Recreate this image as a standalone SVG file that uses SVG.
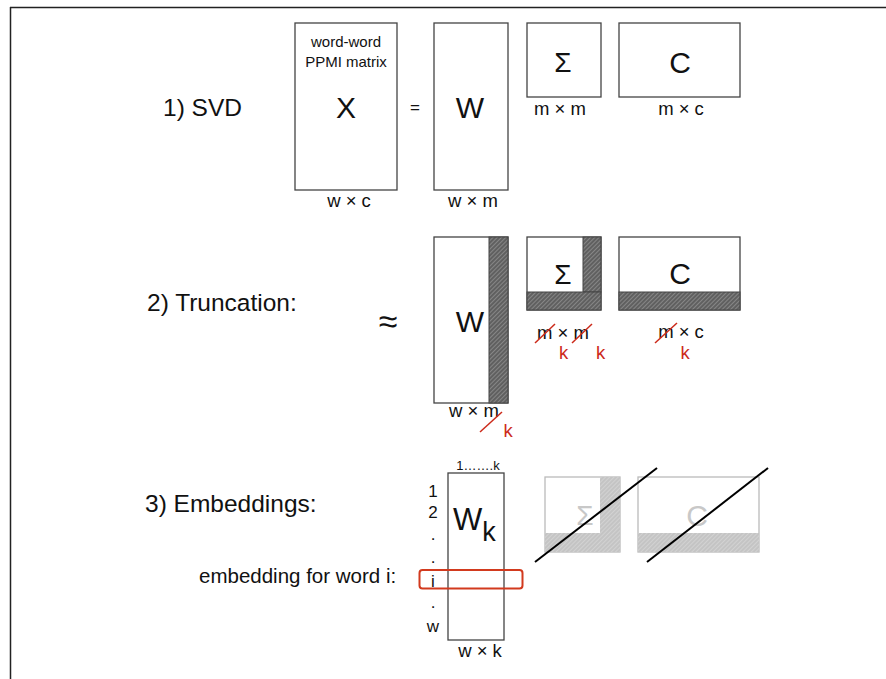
<svg xmlns="http://www.w3.org/2000/svg" width="886" height="679" viewBox="0 0 886 679">
<defs>
<pattern id="hatch" patternUnits="userSpaceOnUse" width="3" height="3" patternTransform="rotate(45)">
<rect width="3" height="3" fill="#606060"/>
<line x1="0" y1="0" x2="0" y2="3" stroke="#b4b4b4" stroke-width="0.9"/>
</pattern>
<pattern id="hatchl" patternUnits="userSpaceOnUse" width="3" height="3" patternTransform="rotate(45)">
<rect width="3" height="3" fill="#c4c4c4"/>
<line x1="0" y1="0" x2="0" y2="3" stroke="#e6e6e6" stroke-width="0.8"/>
</pattern>
</defs>
<style>
text{font-family:"Liberation Sans",Arial,sans-serif;fill:#111}
.box{fill:#fff;stroke:#444;stroke-width:1.3}
.gbox{fill:#fff;stroke:#bbb;stroke-width:1.3}
.lbl{font-size:18.5px;text-anchor:middle}
.big{font-size:30px;text-anchor:middle}
.mid{font-size:28px;text-anchor:middle}
.step{font-size:24.5px}
.red{fill:#cc2a1a}
.slash{stroke:#cc2a1a;stroke-width:1.5}
.row{font-size:17px;text-anchor:middle}
</style>
<rect width="886" height="679" fill="#fff"/>
<g id="frame" fill="none" stroke="#222" stroke-width="1.5">
<line x1="10" y1="7.5" x2="886" y2="7.5"/>
<line x1="10.5" y1="7" x2="10.5" y2="679"/>
</g>

<g id="step1">
<text class="step" x="163" y="116">1) SVD</text>
</g>
<g id="X">
<rect class="box" x="295" y="23" width="102" height="167"/>
<text x="346" y="47" font-size="15" text-anchor="middle">word-word</text>
<text x="346" y="67" font-size="15" text-anchor="middle">PPMI matrix</text>
<text class="big" x="346" y="118">X</text>
<text class="lbl" x="349" y="207">w × c</text>
</g>
<text id="eq" x="415" y="113" font-size="17" text-anchor="middle">=</text>
<g id="W1">
<rect class="box" x="434" y="23" width="74" height="167"/>
<text class="big" x="470" y="118">W</text>
<text class="lbl" x="473" y="207">w × m</text>
</g>
<g id="S1">
<rect class="box" x="527" y="23" width="74" height="74"/>
<text class="mid" x="563" y="72">Σ</text>
<text class="lbl" x="560" y="115">m × m</text>
</g>
<g id="C1">
<rect class="box" x="619" y="23" width="121" height="74"/>
<text class="big" x="680" y="73">C</text>
<text class="lbl" x="681" y="115">m × c</text>
</g>

<g id="step2">
<text class="step" x="147" y="311">2) Truncation:</text>
<text x="388" y="333" font-size="34" text-anchor="middle">≈</text>
</g>
<g id="W2">
<rect class="box" x="434" y="237" width="74" height="166"/>
<rect x="489" y="237" width="19" height="166" fill="url(#hatch)" stroke="#444" stroke-width="1"/>
<text class="big" x="470" y="332">W</text>
<text class="lbl" x="474" y="417">w × m</text>
<line class="slash" x1="480" y1="432" x2="502" y2="412"/>
<text class="lbl red" x="508" y="437">k</text>
</g>
<g id="S2">
<rect class="box" x="527" y="237" width="74" height="73"/>
<rect x="583" y="237" width="18" height="55" fill="url(#hatch)" stroke="#444" stroke-width="1"/>
<rect x="527" y="292" width="74" height="18" fill="url(#hatch)" stroke="#444" stroke-width="1"/>
<text class="mid" x="563" y="284">Σ</text>
<text class="lbl" x="563" y="339">m × m</text>
<line class="slash" x1="535" y1="343" x2="555" y2="324"/>
<line class="slash" x1="572" y1="343" x2="592" y2="324"/>
<text class="lbl red" x="563.5" y="359">k</text>
<text class="lbl red" x="600.5" y="359">k</text>
</g>
<g id="C2">
<rect class="box" x="619" y="237" width="121" height="73"/>
<rect x="619" y="292" width="121" height="18" fill="url(#hatch)" stroke="#444" stroke-width="1"/>
<text class="big" x="680" y="284">C</text>
<text class="lbl" x="681" y="338">m × c</text>
<line class="slash" x1="655" y1="343" x2="677" y2="323"/>
<text class="lbl red" x="685" y="359">k</text>
</g>

<g id="step3">
<text class="step" x="145" y="512">3) Embeddings:</text>
<text x="199" y="583" font-size="20.5">embedding for word i:</text>
</g>
<g id="Wk">
<text x="478" y="470" font-size="13" text-anchor="middle">1…….k</text>
<rect class="box" x="448" y="473" width="56" height="167"/>
<text x="453" y="530" font-size="31">W<tspan font-size="27" dy="11">k</tspan></text>
<text class="row" x="433" y="497">1</text>
<text class="row" x="433" y="518">2</text>
<text class="row" x="433" y="540">.</text>
<text class="row" x="433" y="563">.</text>
<text class="row" x="433" y="587">i</text>
<text class="row" x="433" y="608">.</text>
<text class="row" x="433" y="632">w</text>
<rect x="419.5" y="570" width="103" height="18.5" rx="3" fill="none" stroke="#d23a1e" stroke-width="2"/>
<text class="lbl" x="480" y="657">w × k</text>
</g>
<g id="S3">
<rect class="gbox" x="545" y="477" width="75" height="75"/>
<rect x="600" y="477" width="20" height="56" fill="url(#hatchl)"/>
<rect x="545" y="533" width="75" height="19" fill="url(#hatchl)"/>
<text class="mid" x="585" y="525" style="fill:#c8c8c8">Σ</text>
</g>
<g id="C3">
<rect class="gbox" x="638" y="477" width="121" height="75"/>
<rect x="638" y="533" width="121" height="19" fill="url(#hatchl)"/>
<text class="big" x="697" y="526" style="fill:#c8c8c8">C</text>
</g>
<g id="connectors" stroke="#000" stroke-width="2">
<line x1="535" y1="562" x2="657" y2="468"/>
<line x1="647" y1="562" x2="768" y2="468"/>
</g>
</svg>
